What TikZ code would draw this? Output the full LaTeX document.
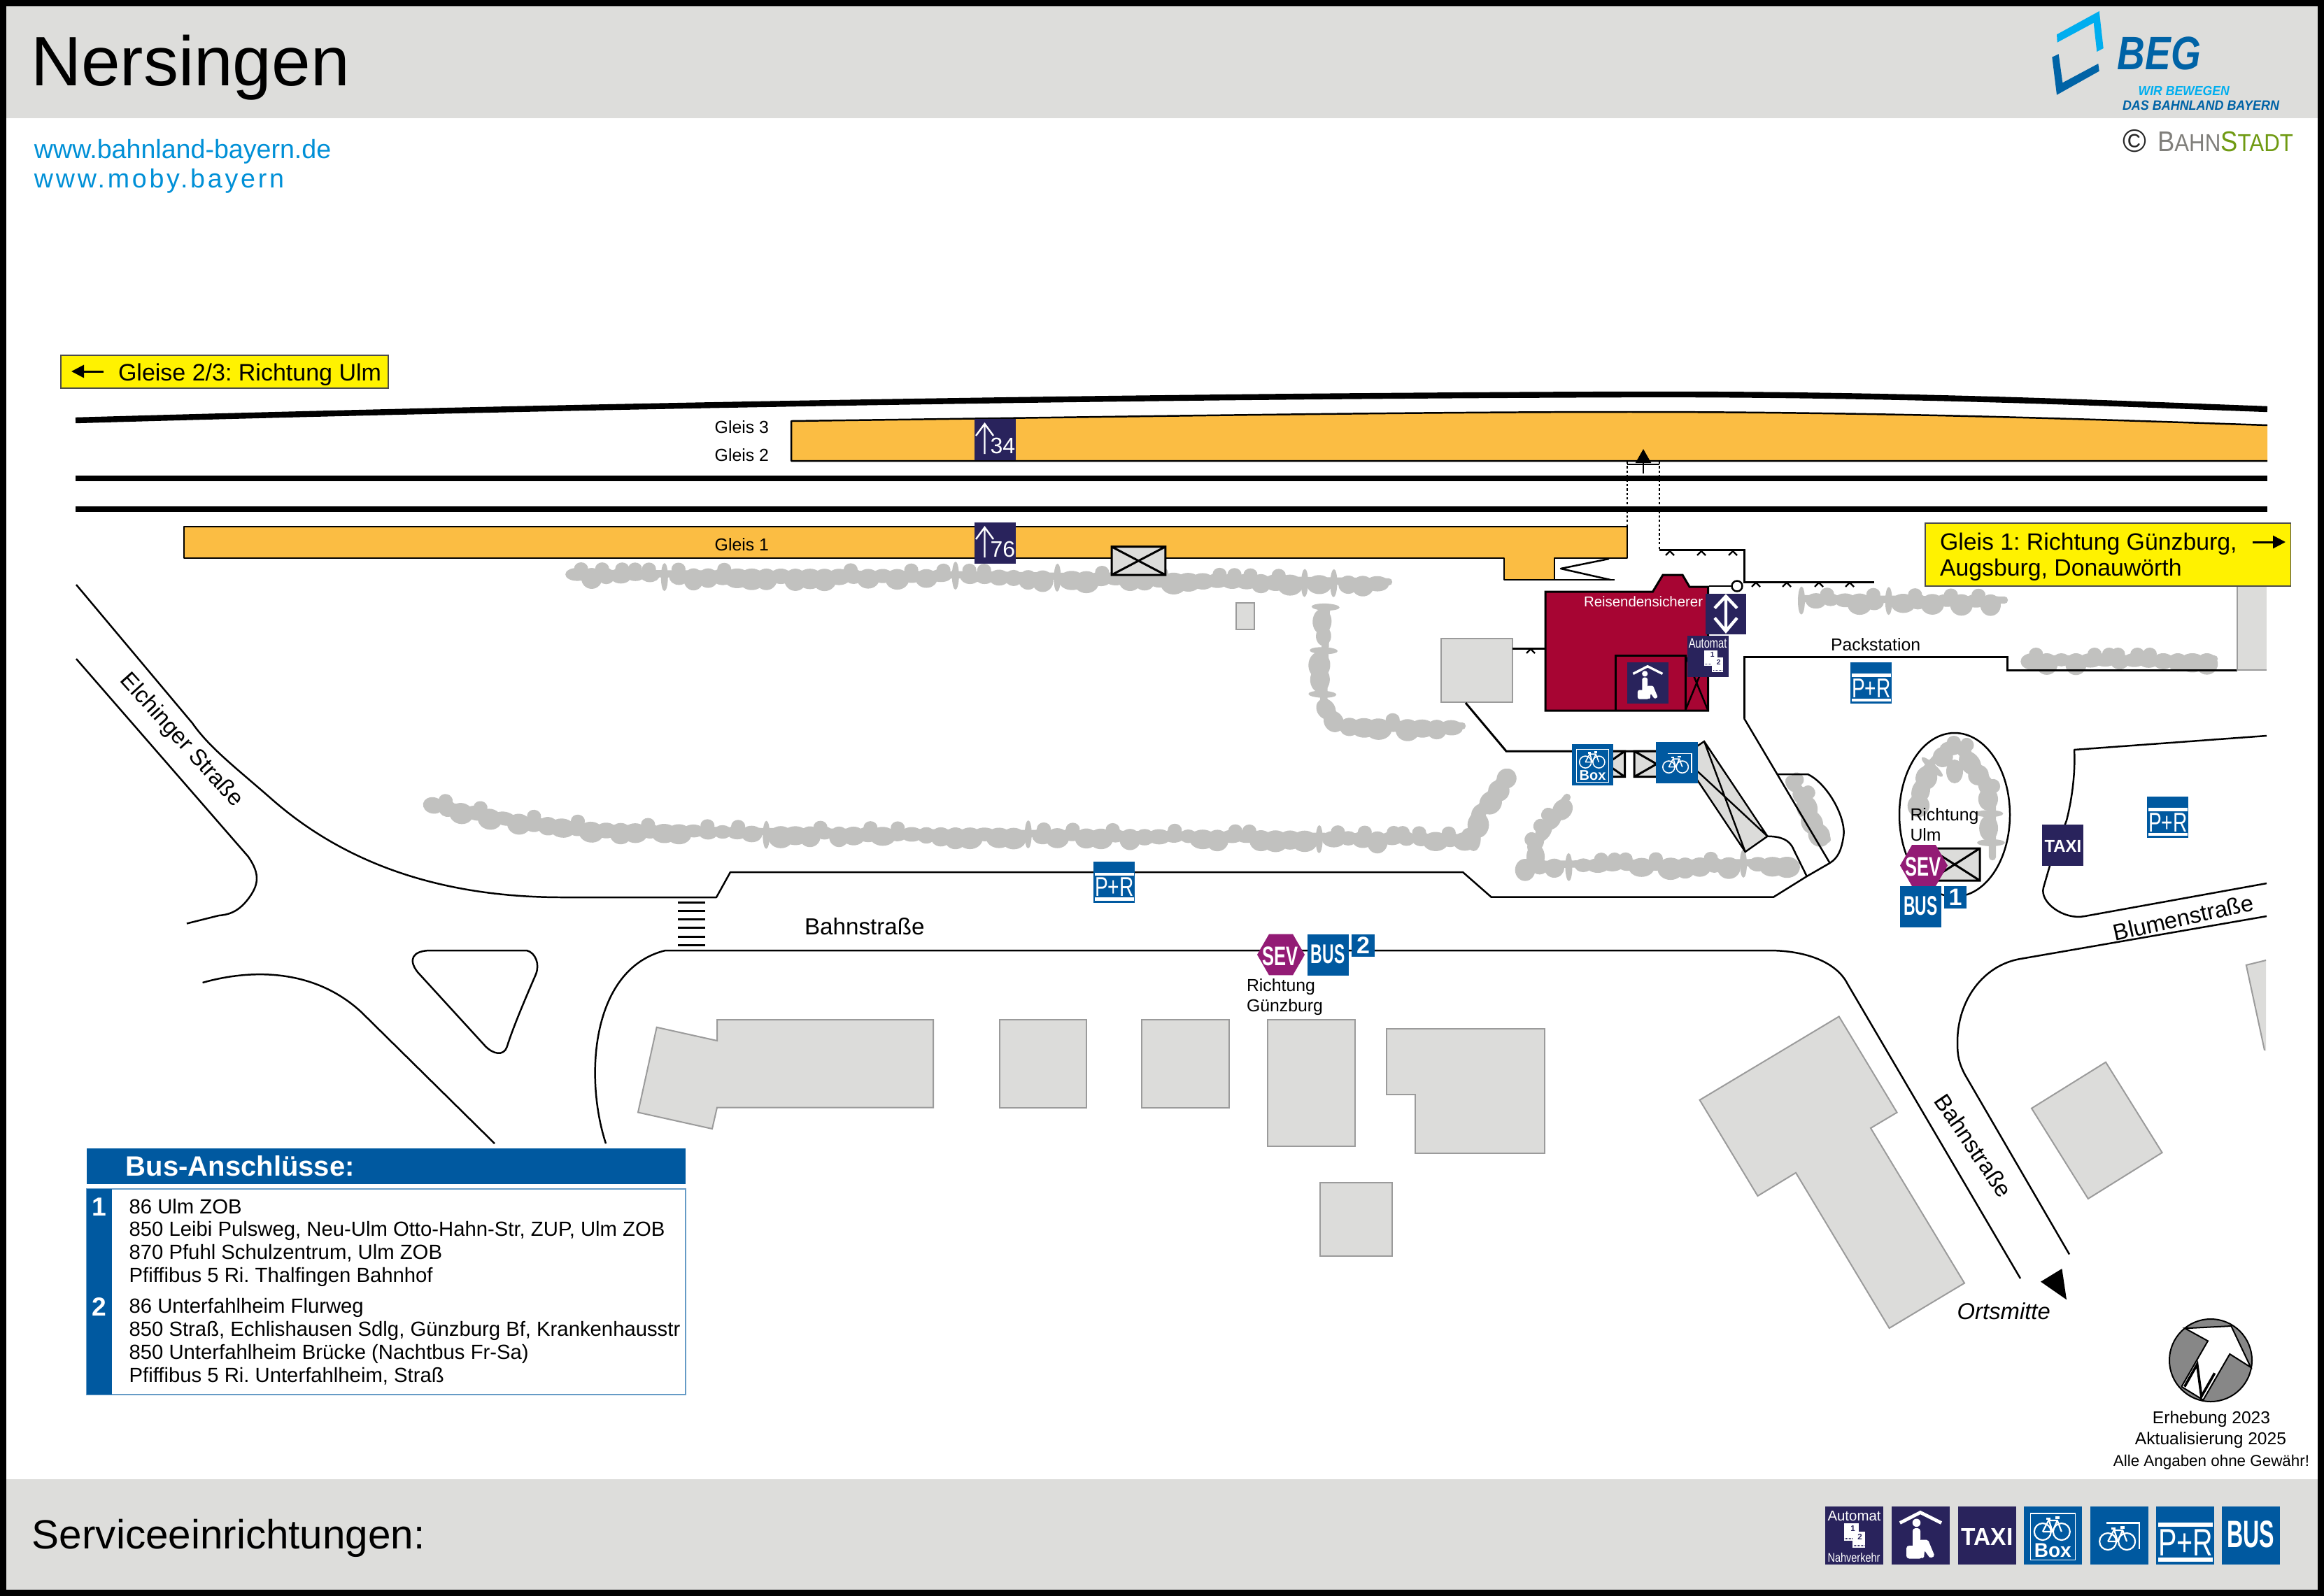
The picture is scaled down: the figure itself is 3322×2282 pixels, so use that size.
\documentclass[tikz,border=0pt]{standalone}
\usepackage{fontspec}
\setmainfont{Liberation Sans}
\usetikzlibrary{arrows.meta,decorations.markings}
\definecolor{hdr}{HTML}{DDDDDB}
\definecolor{bld}{HTML}{DCDCDA}
\definecolor{bldl}{HTML}{9B9B9B}
\definecolor{bushc}{HTML}{C1C1BF}
\definecolor{orng}{HTML}{FBBD43}
\definecolor{ylw}{HTML}{FFF200}
\definecolor{navyc}{HTML}{29235C}
\definecolor{blueb}{HTML}{0059A0}
\definecolor{purp}{HTML}{931B75}
\definecolor{redc}{HTML}{A70533}
\definecolor{urlc}{HTML}{0090D7}
\definecolor{logol}{HTML}{00AEEF}
\definecolor{logod}{HTML}{0063A6}
\definecolor{bsgray}{HTML}{807F7B}
\definecolor{bsgreen}{HTML}{6F9A12}
\frenchspacing
\newcommand{\fz}[1]{\fontsize{#1}{#1}\selectfont}
\newcount\ictr
\tikzset{
  road/.style={draw=black,line width=0.62pt,line join=round},
  wall/.style={draw=black,line width=0.75pt,line join=miter},
  house/.style={fill=bld,draw=bldl,line width=0.5pt,line join=miter},
  plat/.style={fill=orng,draw=none},
  lbl/.style={inner sep=0pt,outer sep=0pt,anchor=base west},
  clbl/.style={inner sep=0pt,outer sep=0pt,anchor=base},
  rlbl/.style={inner sep=0pt,outer sep=0pt,anchor=center},
  iconbox/.style={inner sep=0pt,outer sep=0pt,minimum size=20.75pt,draw=none,shape=rectangle},
  dotline/.style={draw=black,line width=0.6pt,dash pattern=on 0.8pt off 0.8pt}
}
\newcommand{\xbox}[4]{\fill[bld] (#1,#2) rectangle (#3,#4);
  \draw[wall] (#1,#2) rectangle (#3,#4) (#1,#2) -- (#3,#4) (#1,#4) -- (#3,#2);}
\newcommand{\caret}[2]{\draw[draw=black,line width=0.6pt] ({#1-6},{#2+6}) -- (#1,#2) -- ({#1+6},{#2+6});}
\newcommand{\bushmark}{%
  \pgfmathsetmacro\ba{rnd}\pgfmathsetmacro\bb{rnd}\pgfmathsetmacro\bc{rnd}%
  \ifdim\ba pt<0.1pt
    \fill[bushc] (0,{1+4*\bb}) ellipse (5 and 20);
  \else
    \ifdim\ba pt<0.55pt
      \fill[bushc] (0,{5+3*\bb}) ellipse ({14+5*\bc} and {13+3*\bb});
    \else
      \fill[bushc] (0,{1+3*\bb}) ellipse ({12+5*\bc} and {9+3*\bb});
    \fi
    \ifdim\ba pt>0.7pt
      \fill[bushc] ({-6+12*\bc},-7) ellipse (10 and 9);
    \fi
  \fi}
\newcommand{\bushline}[1]{\draw[bushc,line width=2.6pt,line join=round,line cap=round,
  decoration={markings,mark=between positions 0 and 1 step 5.2pt with {\bushmark}},postaction={decorate}] #1;}
% icons: 83 x 83 units, scaled to size
\newcommand{\icbegin}[5]{\begin{scope}[shift={(#2,#3)},scale=#4/83]\def\ics{#4/83}%
  \node[iconbox,fill=#5,transform shape] (#1) at (41.5,41.5) {};}
\newcommand{\icend}{\end{scope}}
\newcommand{\ictxt}[6]{\global\advance\ictr by 1
  \node[transform shape,inner sep=0pt,outer sep=0pt,text=white,name=ict\the\ictr] at (#1,#2)
    {\resizebox{0.25\dimexpr #3pt\relax}{0.25\dimexpr #4pt\relax}{#5#6}};}
\newcommand{\bikeat}[2]{\begin{scope}[shift={(#1,#2)},draw=white,line width=\ics*0.55pt]
  \draw (0,0) circle (12);
  \draw (27,0) circle (12);
  \draw (0,0) -- (8.5,-16) -- (21,-16) -- (27,0);
  \draw (8.5,-18) -- (14,0) -- (0,0);
  \draw (14,0) -- (21,-16);
  \draw[line width=\ics*0.8pt] (5,-18.5) -- (11,-18.5);
  \draw[line width=\ics*0.8pt] (18,-20) -- (24,-20);
  \end{scope}}
\newcommand{\iconPR}[4]{\icbegin{#1}{#2}{#3}{#4}{blueb}
  \fill[white] (3,23) rectangle (81,29);
  \ictxt{42}{52}{78}{37.6}{}{P+R}
  \fill[white] (3,73) rectangle (81,79);
  \icend}
\newcommand{\iconBUS}[4]{\icbegin{#1}{#2}{#3}{#4}{blueb}
  \ictxt{41}{40}{68}{38}{\bfseries}{BUS}\icend}
\newcommand{\iconTAXI}[4]{\icbegin{#1}{#2}{#3}{#4}{navyc}
  \ictxt{42}{43}{74}{24}{\bfseries}{TAXI}\icend}
\newcommand{\iconBox}[4]{\icbegin{#1}{#2}{#3}{#4}{blueb}
  \draw[draw=white,line width=\ics*0.3pt] (9.5,10) rectangle (74,76.7);
  \bikeat{27}{36}
  \ictxt{41.5}{63}{53}{19.5}{\bfseries}{Box}\icend}
\newcommand{\iconBike}[4]{\icbegin{#1}{#2}{#3}{#4}{blueb}
  \draw[draw=white,line width=\ics*0.6pt] (23,23.3) -- (70.5,23.3) -- (70.5,61);
  \bikeat{25.6}{50}\icend}
\newcommand{\iconShelter}[4]{\icbegin{#1}{#2}{#3}{#4}{navyc}
  \draw[draw=white,line width=\ics*1.2pt,line join=miter] (11.8,23.5) -- (41,8.5) -- (71,23.5);
  \fill[white] (35.5,23.3) circle (5.8);
  \fill[white,rounded corners=\ics*1pt] (30,31) rectangle (41,60);
  \fill[white,rounded corners=\ics*0.5pt] (40,47.7) -- (52,47.7) -- (61.5,70.7) -- (55,74) -- (47,63) -- (46,74) -- (42,74) -- cycle;
  \fill[white,rounded corners=\ics*1pt] (21,56) rectangle (44,74.5);
  \icend}
\newcommand{\tickets}[3]{\begin{scope}[shift={(#1,#2)},scale=#3]
  \fill[white] (0,0) rectangle (21,25);
  \fill[white] (12.5,12) rectangle (30.5,35);
  \global\advance\ictr by 1
  \node[transform shape,inner sep=0pt,text=navyc,font=\fz{2.9}\bfseries,name=ict\the\ictr] at (13,7) {1};
  \global\advance\ictr by 1
  \node[transform shape,inner sep=0pt,text=navyc,font=\fz{2.9}\bfseries,name=ict\the\ictr] at (23,19) {2};
  \draw[draw=navyc,line width=\ics*0.35pt,dash pattern=on 0.3pt off 0.2pt] (1,22) -- (12,22) (14,32) -- (29,32);
  \end{scope}}
\newcommand{\sevicon}[3]{\begin{scope}[shift={(#2,#3)}]
  \fill[purp] (-17,-29.4) -- (17,-29.4) -- (34,0) -- (17,29.4) -- (-17,29.4) -- (-34,0) -- cycle;
  \node[inner sep=0pt,outer sep=0pt,text=white,name=#1] at (-1,2) {\resizebox{12.8pt}{6.7pt}{\bfseries SEV}};
  \end{scope}}
\begin{document}
\begin{tikzpicture}[x=0.25pt,y=-0.25pt]
\useasboundingbox (0,0) rectangle (3322,2282);
\fill[white] (0,0) rectangle (3322,2282);
\fill[hdr] (0,0) rectangle (3322,169);
\fill[hdr] (0,2115) rectangle (3322,2282);
% header text
\node[lbl,font=\fz{25}] (title) at (44,122) {Nersingen};
\node[lbl,font=\fz{9.4},text=urlc] (url1) at (49,226) {www.bahnland-bayern.de};
\node[lbl,font={\fz{9.4}\addfontfeatures{LetterSpace=10}},text=urlc] (url2) at (49,268) {www.moby.bayern};
% logo
\fill[logol] (2940,49.3) -- (3000.7,16) -- (3006.7,69) -- (2997.3,74) -- (2992.7,32.7) -- (2940.7,60.7) -- cycle;
\fill[logod] (2933.3,81.7) -- (2942.7,77.3) -- (2948.3,118.3) -- (2999.3,91) -- (3000.7,101.7) -- (2940,135.7) -- cycle;
\node[lbl,text=logod] (beg) at (3026.7,99.3) {\resizebox{29.8pt}{11.7pt}{\bfseries\itshape BEG}};
\node[lbl,text=logol] (wir) at (3056.7,136) {\resizebox{32.5pt}{3.3pt}{\bfseries\itshape WIR BEWEGEN}};
\node[lbl,text=logod] (das) at (3034,157.3) {\resizebox{56pt}{3.4pt}{\bfseries\itshape DAS BAHNLAND BAYERN}};
\node[rlbl,font=\fz{11.5},text=black!85] (copy) at (3051.7,201.7) {©};
\node[lbl] (bstadt) at (3084,216.7) {\resizebox{48.5pt}{7.1pt}{\textcolor{bsgray}{\fz{10}B\fz{8.6}AHN}\textcolor{bsgreen}{\fz{10}S\fz{8.6}TADT}}};
% tracks
\draw[line width=2.1pt] (108,601) .. controls (900,578) and (1700,566) .. (2330,564) .. controls (2700,563) and (3000,576) .. (3241,585);
\draw[line width=2.1pt] (108,684) -- (3241,684);
\draw[line width=2.1pt] (108,728) -- (3241,728);
% platforms
\fill[plat] (1131,602) .. controls (1600,596) and (2000,589) .. (2330,589) .. controls (2700,589) and (3000,600) .. (3241,608) -- (3241,659) -- (1131,659) -- cycle;
\draw[road] (3241,608) .. controls (3000,600) and (2700,589) .. (2330,589) .. controls (2000,589) and (1600,596) .. (1131,602) -- (1131,659) -- (3241,659);
\fill[plat] (263,753) -- (2326,753) -- (2326,798) -- (2222,798) -- (2222,829) -- (2150,829) -- (2150,798) -- (263,798) -- cycle;
\draw[road] (263,753) -- (2326,753) -- (2326,798) -- (2222,798) -- (2222,829) -- (2150,829) -- (2150,798) -- (263,798) -- cycle;
\draw[road] (2222,829) -- (2308,829);
\draw[road] (2300,799) -- (2231,813) -- (2302,829);
\node[lbl,font=\fz{6.2}] (g3) at (1021.7,619) {Gleis 3};
\node[lbl,font=\fz{6.2}] (g2) at (1021.7,659) {Gleis 2};
\node[lbl,font=\fz{6.2}] (g1) at (1021.7,787.7) {Gleis 1};
% underpass
\draw[dotline] (2326,660) -- (2326,753);
\draw[dotline] (2372,660) -- (2372,786);
\draw[road] (2326,664) -- (2372,664);
\draw[line width=0.6pt,-{Triangle[length=5pt,width=5.5pt]}] (2349,677) -- (2349,642);
% walls
\draw[wall] (2372,786) -- (2493,786) -- (2493,832) -- (2679,832);
\foreach \cx in {2387,2432,2477} {\caret{\cx}{788}}
\foreach \cx in {2510,2554,2600,2644} {\caret{\cx}{833}}
\draw[road] (2443,838) -- (2475,838);
\draw[road,fill=white] (2483,838) circle (7.5);
% bushes
\pgfmathsetseed{4711}
\bushline{(825,820) -- (1400,822) -- (1985,832)}
\bushline{(1896,868) -- (1892,1000) -- (1915,1034) -- (2090,1038)}
\bushline{(620,1148) -- (728,1170) -- (855,1184) -- (1090,1189) -- (1500,1192) -- (2100,1198)}
\bushline{(2105,1200) -- (2106,1170) -- (2127,1140) -- (2152,1105)}
\bushline{(2180,1236) -- (2555,1233)}
\bushline{(2190,1225) -- (2190,1210) -- (2213,1175) -- (2240,1140)}
\bushline{(2565,1120) -- (2587,1145) -- (2595,1170) -- (2612,1200)}
\bushline{(2575,856) -- (2865,858)}
\bushline{(2905,942) -- (3165,942)}
\bushline{(2735,1150) -- (2748,1105) -- (2782,1068) -- (2806,1068) -- (2838,1110) -- (2848,1140) -- (2848,1180) -- (2848,1225)}
\fill[bushc] (2794,1103) ellipse (12 and 17);
% small rect
\fill[bld] (1767,862) rectangle (1793,900); \draw[draw=bldl,line width=0.4pt] (1767,862) rectangle (1793,900);
% station
\fill[redc] (2209,846) -- (2362.5,846) -- (2377,822) -- (2405,822) -- (2415,839) -- (2441.5,839) -- (2441.5,1016) -- (2209,1016) -- cycle;
\draw[wall] (2209,846) -- (2362.5,846) -- (2377,822) -- (2405,822) -- (2415,839) -- (2441.5,839) -- (2441.5,1016) -- (2209,1016) -- cycle;
\draw[wall] (2309,1016) -- (2309,937) -- (2409,937) -- (2409,1016);
\draw[road] (2409,937) -- (2441.5,1016) (2441.5,937) -- (2409,1016);
\node[lbl,font=\fz{5.1},text=white] (rs) at (2264,867) {Reisendensicherer};
% gray building by station
\fill[bld] (2060,913) rectangle (2162,1004);
\draw[house] (2060,913) rectangle (2162,1004);
\draw[wall] (2162,927) -- (2209,927);
\caret{2188}{928}
\draw[wall] (2095,1005) -- (2153,1074) -- (2400,1074);
% right road and wall
\draw[wall] (2493,1027) -- (2493,939) -- (2869.6,939) -- (2869.6,958) -- (3197.6,958);
\fill[bld] (3197.6,830) rectangle (3240,958);
\draw[draw=bldl,line width=0.5pt] (3197.6,830) -- (3197.6,958) -- (3240,958);
\draw[road] (2493,1027) -- (2615.6,1234);
\draw[road] (2540.6,1107) -- (2584,1107) .. controls (2612,1120) and (2640,1170) .. (2635,1197) .. controls (2632,1215) and (2628,1226) .. (2615.6,1234) -- (2582.7,1253) -- (2535,1282.7) -- (2131.7,1282.7) -- (2091,1247) -- (1044,1247) -- (1024,1283) -- (804,1283) .. controls (640,1283) and (500,1240) .. (390,1144) .. controls (340,1100) and (300,1070) .. (275,1034) -- (109,836);
% ramp box
\fill[bld] (2436,1060) -- (2526.5,1195.7) -- (2494.7,1218) -- (2404,1082) -- cycle;
\draw[wall,line width=0.6pt] (2436,1060) -- (2526.5,1195.7) -- (2494.7,1218) -- (2404,1082) -- cycle (2436,1060) -- (2494.7,1218) (2404,1082) -- (2526.5,1195.7);
\draw[road] (2526.5,1195.7) .. controls (2545,1196) and (2558,1200) .. (2564,1215) -- (2582.7,1253);
% X boxes
\xbox{2270}{1074}{2322.5}{1110.7}
\xbox{2336}{1074}{2400}{1110.7}
\xbox{1589}{781.7}{1665.8}{822}
\draw[road] (2794,1048) .. controls (2750,1048) and (2715,1100) .. (2715,1165) .. controls (2715,1230) and (2750,1282) .. (2794,1282) .. controls (2838,1282) and (2873,1230) .. (2873,1165) .. controls (2873,1100) and (2838,1048) .. (2794,1048) -- cycle;
\xbox{2758}{1213}{2830}{1259}
% other roads
\draw[road] (109,942) -- (355,1225) .. controls (372,1250) and (370,1265) .. (355,1285) .. controls (340,1305) and (325,1308) .. (313,1309) -- (267,1320.5);
\draw[road] (289.6,1405) .. controls (360,1385) and (450,1385) .. (517,1447.6) -- (707,1635);
\draw[road] (613,1359) -- (753,1359) .. controls (765,1362) and (772,1378) .. (766,1393) .. controls (750,1430) and (733,1470) .. (724.6,1497) .. controls (720,1510) and (705,1508) .. (693,1495) -- (597,1390) .. controls (583,1372) and (590,1360) .. (613,1359) -- cycle;
\foreach \cy in {1290.7,1302.7,1314.8,1326.8,1339.4,1351} {\draw[line width=0.75pt] (969,\cy) -- (1008,\cy);}
\draw[road] (866,1635) .. controls (835,1540) and (845,1385) .. (951,1359) -- (2529,1359) .. controls (2580,1359) and (2625,1375) .. (2641,1407) -- (2888,1828);
\draw[road] (2958,1793.5) -- (2809,1537) .. controls (2800,1520) and (2798,1510) .. (2798,1490) .. controls (2798,1430) and (2835,1380) .. (2888,1371) -- (3240,1310);
\draw[road] (3240,1052) -- (2965,1072) .. controls (2967,1110) and (2960,1150) .. (2954,1173) -- (2930,1238) -- (2921,1269) .. controls (2915,1290) and (2950,1316) .. (2980,1310) -- (3240,1263);
% buildings
\draw[house] (1025,1458) -- (1334,1458) -- (1334,1583.6) -- (1025,1583.6) -- (1018,1614) -- (912,1590.5) -- (938.7,1468.8) -- (1025,1488) -- cycle;
\draw[house] (1428.5,1458) rectangle (1553,1583.6);
\draw[house] (1632,1458) rectangle (1756.7,1583.6);
\draw[house] (1812,1458) rectangle (1936.5,1639);
\draw[house] (1982,1470.7) -- (2208,1470.7) -- (2208,1648.6) -- (2022.6,1648.6) -- (2022.6,1565) -- (1982,1565) -- cycle;
\draw[house] (1886.8,1690.7) rectangle (1990,1796);
\draw[house] (2628.7,1453.4) -- (2711.6,1590.6) -- (2674,1613) -- (2808,1834.6) -- (2700.6,1899) -- (2567,1676.8) -- (2512.5,1710) -- (2429.6,1572.8) -- cycle;
\draw[house] (3010,1518.7) -- (3090.6,1648) -- (2984.8,1714) -- (2904,1584.7) -- cycle;
\fill[bld] (3210.8,1379.9) -- (3239,1373) -- (3239,1502.5) -- (3237,1501.7) -- cycle;
\draw[draw=bldl,line width=0.5pt] (3239,1373) -- (3210.8,1379.9) -- (3237,1501.7);
% street labels
\node[rlbl,font=\fz{8.2},rotate=-48] (elch) at (259,1059) {Elchinger Straße};
\node[lbl,font=\fz{8.3}] (bahn1) at (1150,1336.7) {Bahnstraße};
\node[rlbl,font=\fz{8.2},rotate=-56] (bahn2) at (2821,1638) {Bahnstraße};
\node[rlbl,font=\fz{8.2},rotate=12.5] (blum) at (3121,1312) {Blumenstraße};
\node[lbl,font=\fz{8.2}\itshape] (ort) at (2797.7,1886) {Ortsmitte};
\fill (2947.4,1814) -- (2917,1832.6) -- (2954,1858.3) -- cycle;
\node[lbl,font=\fz{6.2}] (pack) at (2617,930.7) {Packstation};
\node[lbl,font=\fz{6.2}] (ru1) at (2730.5,1173.6) {Richtung};
\node[lbl,font=\fz{6.2}] (ru2) at (2730.5,1202.5) {Ulm};
\node[lbl,font=\fz{6.2}] (rg1) at (1782,1417.7) {Richtung};
\node[lbl,font=\fz{6.2}] (rg2) at (1782,1446.7) {Günzburg};
% yellow boxes
\fill[ylw] (87,508) rectangle (555,555); \draw[draw=black!70,line width=0.35pt] (87,508) rectangle (555,555);
\node[lbl,font=\fz{8.5}] (yl) at (169,544) {Gleise 2/3: Richtung Ulm};
\draw[line width=0.75pt,-{Triangle[length=4.5pt,width=4.5pt]}] (148,531) -- (102,531);
\fill[ylw] (2752,748) rectangle (3274.7,838); \draw[draw=black!70,line width=0.35pt] (2752,748) rectangle (3274.7,838);
\node[lbl,font=\fz{8.45}] (yr1) at (2773,786) {Gleis 1: Richtung Günzburg,};
\node[lbl,font=\fz{8.45}] (yr2) at (2773,823) {Augsburg, Donauwörth};
\draw[line width=0.75pt,-{Triangle[length=4.5pt,width=4.5pt]}] (3220,775) -- (3267,775);
% step icons 34 / 76
\fill[navyc] (1392.5,599) rectangle (1451.7,657.7);
\draw[draw=white,line width=0.6pt] (1407.5,649) -- (1407.5,606) (1395,623) -- (1407.5,606) -- (1420,623);
\node[lbl,font=\fz{8},text=white] (n34) at (1415.5,648.3) {34};
\fill[navyc] (1392.5,747) rectangle (1451.7,805.7);
\draw[draw=white,line width=0.6pt] (1407.5,797) -- (1407.5,754) (1395,771) -- (1407.5,754) -- (1420,771);
\node[lbl,font=\fz{8},text=white] (n76) at (1415.5,796.3) {76};
% lift arrow icon
\fill[navyc] (2438,848.7) rectangle (2496.4,907.3);
\draw[draw=white,line width=1.1pt] (2467,853) -- (2467,902) (2451,869.5) -- (2467,852.5) -- (2483,869.5) (2451,883.5) -- (2467,902.5) -- (2483,883.5);
% automat map
\icbegin{autoM}{2411.6}{909}{59}{navyc}
\ictxt{41.5}{15}{77}{19}{}{Automat}
\tickets{34.7}{29}{1.25}
\icend
\iconShelter{shM}{2326}{946.7}{59}
\iconPR{prA}{2645}{947}{59}
\iconPR{prB}{3069}{1139}{59}
\iconPR{prC}{1563}{1231.5}{59}
\iconBox{boxM}{2247}{1064}{59}
\iconBike{bikeM}{2367}{1060.7}{59.6}
\iconTAXI{taxiM}{2919}{1179}{59}
\iconBUS{busA}{2716}{1267}{59}
\iconBUS{busB}{1869}{1335.7}{59}
\sevicon{sevA}{2750}{1237.5}
\sevicon{sevB}{1831}{1365}
\fill[blueb] (2779,1267) rectangle (2811,1299);
\node[rlbl,font=\fz{8.5}\bfseries,text=white] (one) at (2795,1283) {1};
\fill[blueb] (1932,1335.7) rectangle (1965,1368);
\node[rlbl,font=\fz{8.5}\bfseries,text=white] (two) at (1948.5,1352) {2};
% bus table
\fill[blueb] (123.8,1642.3) rectangle (980,1693.3);
\node[lbl,font=\fz{10}\bfseries,text=white] (bt) at (180,1681.7) {Bus-Anschlüsse:};
\fill[white] (123.8,1700) rectangle (980,1994);
\draw[draw=blueb!60,line width=0.3pt] (123.8,1700) rectangle (980,1994);
\fill[blueb] (123.8,1700) rectangle (160,1994);
\node[clbl,font=\fz{9.3}\bfseries,text=white] (b1) at (142,1738) {1};
\node[clbl,font=\fz{9.3}\bfseries,text=white] (b2) at (142,1881.7) {2};
\node[lbl,font=\fz{7.32}] (l1) at (184.6,1735) {86 Ulm ZOB};
\node[lbl,font=\fz{7.32}] (l2) at (184.6,1767.7) {850 Leibi Pulsweg, Neu-Ulm Otto-Hahn-Str, ZUP, Ulm ZOB};
\node[lbl,font=\fz{7.32}] (l3) at (184.6,1800.7) {870 Pfuhl Schulzentrum, Ulm ZOB};
\node[lbl,font=\fz{7.32}] (l4) at (184.6,1833) {Pfiffibus 5 Ri. Thalfingen Bahnhof};
\node[lbl,font=\fz{7.32}] (l5) at (184.6,1877.7) {86 Unterfahlheim Flurweg};
\node[lbl,font=\fz{7.32}] (l6) at (184.6,1910.7) {850 Straß, Echlishausen Sdlg, Günzburg Bf, Krankenhausstr};
\node[lbl,font=\fz{7.32}] (l7) at (184.6,1943.3) {850 Unterfahlheim Brücke (Nachtbus Fr-Sa)};
\node[lbl,font=\fz{7.32}] (l8) at (184.6,1976.7) {Pfiffibus 5 Ri. Unterfahlheim, Straß};
% north arrow
\fill[black!47] (3160,1945) circle (59);
\draw[line width=0.5pt] (3160,1945) circle (59);
\fill[white] (3123.3,1899.3) -- (3189.3,1896) -- (3217.3,1955) -- (3187.3,1936) -- (3149.3,2001.7) -- (3118.3,1982.7) -- (3156,1917.3) -- cycle;
\draw[line width=0.5pt,line join=miter] (3118.3,1982.7) -- (3149.3,2001.7) -- (3187.3,1936) -- (3217.3,1955) -- (3189.3,1896) -- (3123.3,1899.3) -- (3156,1917.3) -- (3118.3,1982.7);
\draw[line width=0.9pt,line join=miter] (3122.7,1982.7) -- (3140.7,1950.7) -- (3146.7,1996.7) -- (3165.7,1963.3);
\node[clbl,font=\fz{6.15}] (er) at (3161,2035.7) {Erhebung 2023};
\node[clbl,font=\fz{6.15}] (ak) at (3160,2065) {Aktualisierung 2025};
\node[clbl,font=\fz{5.6}] (al) at (3161,2096.7) {Alle Angaben ohne Gewähr!};
% footer
\node[lbl,font=\fz{14.6}] (se) at (46,2214) {Serviceeinrichtungen:};
\icbegin{autoF}{2609}{2154}{83}{navyc}
\ictxt{41.5}{13.5}{76}{14}{}{Automat}
\ictxt{41}{73.5}{75}{13}{}{Nahverkehr}
\tickets{26.5}{24}{1}
\icend
\iconShelter{shF}{2704}{2154}{83}
\iconTAXI{taxiF}{2798.6}{2154}{83}
\iconBox{boxF}{2892.8}{2154}{83}
\iconBike{bikeF}{2987.5}{2154}{83}
\iconPR{prF}{3082}{2154}{83}
\iconBUS{busF}{3176}{2154}{83}
% frame
\draw[line width=2.2pt] (4.4,4.4) rectangle (3317.6,2277.6);
\end{tikzpicture}
\end{document}
